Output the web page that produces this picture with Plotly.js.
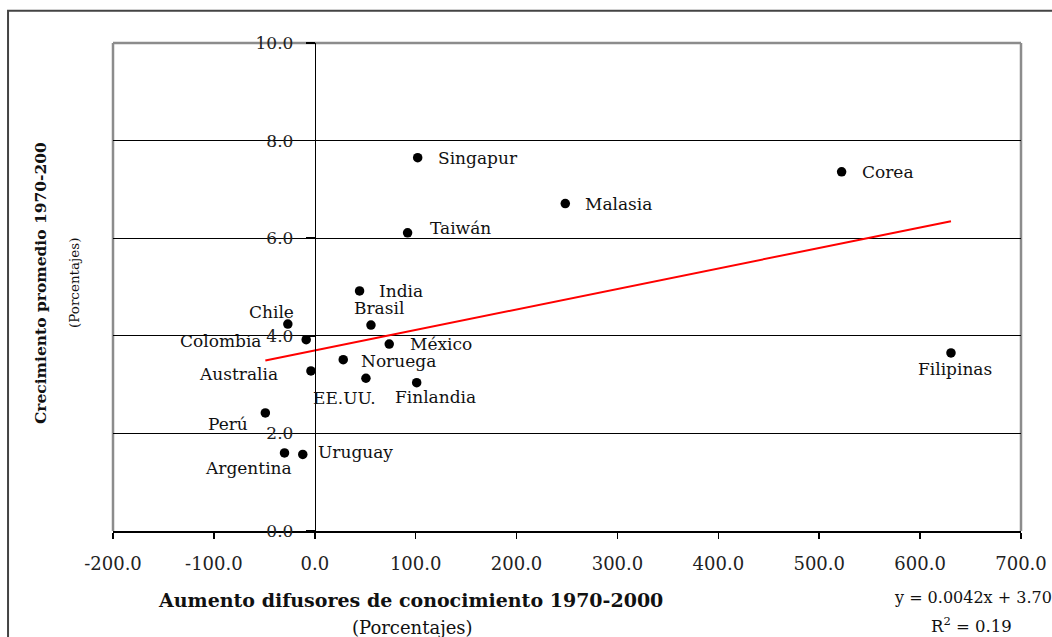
<!DOCTYPE html>
<html>
<head>
<meta charset="utf-8">
<script src="https://cdn.plot.ly/plotly-3.0.1.min.js"></script>
<style>html,body{margin:0;padding:0;background:#fff;}#chart{width:1052px;height:637px;}</style>
</head>
<body>
<div id="chart"></div>
<script>
// ---- data ----
const countries = ["Singapur","Malasia","Taiwán","India","Corea","Brasil","Chile","Colombia","México","Noruega","Australia","EE.UU.","Finlandia","Perú","Argentina","Uruguay","Filipinas"];
const aumento   = [102, 248.3, 92, 44.4, 522.2, 55.7, -26.7, -8.5, 73.8, 28.2, -3.8, 50.7, 101, -49, -30, -11.9, 630.6];
const crecim    = [7.65, 6.71, 6.11, 4.92, 7.36, 4.22, 4.24, 3.92, 3.83, 3.51, 3.28, 3.13, 3.04, 2.42, 1.60, 1.57, 3.65];
const xTicks = [-200, -100, 0, 100, 200, 300, 400, 500, 600, 700];
const yTicks = [0, 2, 4, 6, 8, 10];
const trendSlope = 0.0042;
const trendIntercept = 3.70;
const eqText = "y = 0.0042x + 3.70";
const r2Text = "R<sup>2</sup> = 0.19";
const xTitle = "Aumento difusores de conocimiento 1970-2000";
const yTitle = "Crecimiento promedio 1970-200";
const unitText = "(Porcentajes)";

// ---- label placement (pixel offsets) ----
const labelPlace = {
  "Singapur":[18,0,"left"], "Malasia":[18,0,"left"], "Taiwán":[20,5,"left"], "India":[17,0,"left"],
  "Corea":[18,0,"left"], "Brasil":[8,17,"center"], "Chile":[-16,12,"center"], "Colombia":[-42,-1,"right"],
  "México":[19,0,"left"], "Noruega":[16,-1,"left"], "Australia":[-31,-3,"right"], "EE.UU.":[-21,-20,"center"],
  "Finlandia":[19,-14,"center"], "Perú":[-37,-11,"center"], "Argentina":[-36,-15,"center"], "Uruguay":[13,2,"left"],
  "Filipinas":[4,-16,"center"]
};

const FONT = "DejaVu Serif, Liberation Serif, serif";

const xMin = Math.min(...aumento), xMax = Math.max(...aumento);
const trendX = [xMin, xMax];
const trendY = trendX.map(v => trendSlope * v + trendIntercept);

const traces = [
  {x: trendX, y: trendY, mode: "lines", line: {color: "#ff0000", width: 2}, hoverinfo: "skip", cliponaxis: false},
  {x: aumento, y: crecim, text: countries, mode: "markers", marker: {color: "#000", size: 9.5, symbol: "circle"}, cliponaxis: false}
];

const annotations = countries.map((c, i) => ({
  x: aumento[i], y: crecim[i], xref: "x", yref: "y", text: c, showarrow: false,
  xanchor: labelPlace[c][2], yanchor: "middle", xshift: labelPlace[c][0], yshift: labelPlace[c][1],
  font: {family: FONT, size: 17, color: "#111"}
}));

annotations.push(
  {xref: "paper", yref: "paper", x: -0.0804, y: 0.508, text: yTitle, textangle: -90, showarrow: false,
   xanchor: "center", yanchor: "middle", font: {family: FONT, size: 15.5, color: "#111", weight: "bold"}},
  {xref: "paper", yref: "paper", x: -0.043, y: 0.508, text: unitText, textangle: -90, showarrow: false,
   xanchor: "center", yanchor: "middle", font: {family: FONT, size: 13.5, color: "#111"}},
  {xref: "paper", yref: "paper", x: 0.328, y: -0.1414, text: xTitle, showarrow: false,
   xanchor: "center", yanchor: "middle", font: {family: FONT, size: 19, color: "#111", weight: "bold"}},
  {xref: "paper", yref: "paper", x: 0.33, y: -0.197, text: unitText, showarrow: false,
   xanchor: "center", yanchor: "middle", font: {family: FONT, size: 18, color: "#111"}},
  {xref: "paper", yref: "paper", x: 0.947, y: -0.137, text: eqText, showarrow: false,
   xanchor: "center", yanchor: "middle", font: {family: FONT, size: 16, color: "#111"}},
  {xref: "paper", yref: "paper", x: 0.945, y: -0.193, text: r2Text, showarrow: false,
   xanchor: "center", yanchor: "middle", font: {family: FONT, size: 16.5, color: "#111"}}
);

const grayBorder = {color: "#8c8c8c", width: 2.5};
const shapes = [
  {type: "rect", xref: "paper", yref: "paper", x0: -0.1156, x1: 1.08, y0: -0.4, y1: 1.066, line: {color: "#444", width: 2}, layer: "below"},
  {type: "line", xref: "paper", yref: "paper", x0: 0, x1: 1, y0: 1, y1: 1, line: grayBorder, layer: "between"},
  {type: "line", xref: "paper", yref: "paper", x0: 0, x1: 0, y0: 0, y1: 1, line: grayBorder, layer: "between"},
  {type: "line", xref: "paper", yref: "paper", x0: 1, x1: 1, y0: 0, y1: 1, line: grayBorder, layer: "between"}
];

const layout = {
  width: 1052, height: 637,
  margin: {l: 113, r: 31, t: 43, b: 106},
  paper_bgcolor: "#fff", plot_bgcolor: "#fff",
  showlegend: false,
  font: {family: FONT, color: "#111"},
  xaxis: {
    range: [-200, 700], domain: [0, 1], tickmode: "array", tickvals: xTicks,
    ticktext: xTicks.map(v => v.toFixed(1)),
    ticks: "outside", ticklen: 6, tickwidth: 1.5, tickcolor: "#000",
    showline: true, linecolor: "#000", linewidth: 1.5, showgrid: false, zeroline: false,
    tickfont: {family: FONT, size: 18, color: "#222"}, ticklabelstandoff: 10, fixedrange: true
  },
  yaxis: {
    range: [0, 10], anchor: "free", position: 200 / 900, tickmode: "array", tickvals: yTicks,
    ticktext: yTicks.map(v => v.toFixed(1)),
    ticks: "outside", ticklen: 9, tickwidth: 1.5, tickcolor: "#000",
    showline: true, linecolor: "#000", linewidth: 1.5,
    showgrid: true, gridcolor: "#000", gridwidth: 1.2, zeroline: false,
    tickfont: {family: FONT, size: 17, color: "#222"}, ticklabelstandoff: 9, fixedrange: true
  },
  annotations: annotations,
  shapes: shapes
};

Plotly.newPlot("chart", traces, layout, {displayModeBar: false, staticPlot: true});
</script>
</body>
</html>
